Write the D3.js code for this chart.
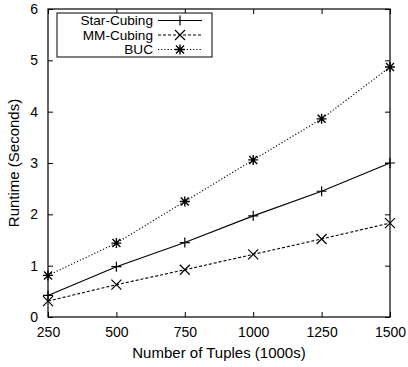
<!DOCTYPE html>
<html>
<head>
<meta charset="utf-8">
<script src="https://d3js.org/d3.v7.min.js"></script>
<style>
  body { margin: 0; background: #fff; }
  text { font-family: "Liberation Sans", Arial, sans-serif; fill: #000; }
</style>
</head>
<body>
<div id="chart"></div>
<script>
// data
const tuples = [250, 500, 750, 1000, 1250, 1500];
const starCubing = [0.42, 0.98, 1.45, 1.97, 2.45, 3.0];
const mmCubing = [0.31, 0.63, 0.92, 1.22, 1.52, 1.83];
const buc = [0.81, 1.44, 2.25, 3.06, 3.86, 4.87];
const xTicks = [250, 500, 750, 1000, 1250, 1500];
const yTicks = [0, 1, 2, 3, 4, 5, 6];

const width = 408, height = 367;
const margin = { top: 9, right: 18, bottom: 50, left: 48 };

const svg = d3.select('#chart').append('svg')
    .attr('width', width)
    .attr('height', height);

const x = d3.scaleLinear()
    .domain([250, 1500])
    .range([margin.left, width - margin.right]);

const y = d3.scaleLinear()
    .domain([0, 6])
    .range([height - margin.bottom, margin.top]);

const series = [
    { name: 'Star-Cubing', values: starCubing, dash: null, marker: 'plus' },
    { name: 'MM-Cubing', values: mmCubing, dash: '3,2', marker: 'cross' },
    { name: 'BUC', values: buc, dash: '1.2,2', marker: 'star' }
];

// inward ticks on all four sides
const tickLen = 5;
svg.append('g')
    .attr('transform', `translate(0,${y(0)})`)
    .call(d3.axisBottom(x).tickValues(xTicks).tickSize(-tickLen).tickPadding(10).tickFormat(d3.format('d')))
    .call(g => g.select('.domain').remove())
    .call(g => g.selectAll('text').attr('font-size', '14px'));

svg.append('g')
    .attr('transform', `translate(0,${y(6)})`)
    .call(d3.axisTop(x).tickValues(xTicks).tickSize(-tickLen).tickFormat(''))
    .call(g => g.select('.domain').remove());

svg.append('g')
    .attr('transform', `translate(${x(250)},0)`)
    .call(d3.axisLeft(y).tickValues(yTicks).tickSize(-tickLen).tickPadding(10).tickFormat(d3.format('d')))
    .call(g => g.select('.domain').remove())
    .call(g => g.selectAll('text').attr('font-size', '14px'));

svg.append('g')
    .attr('transform', `translate(${x(1500)},0)`)
    .call(d3.axisRight(y).tickValues(yTicks).tickSize(-tickLen).tickFormat(''))
    .call(g => g.select('.domain').remove());

// frame
svg.append('rect')
    .attr('x', x(250))
    .attr('y', y(6))
    .attr('width', x(1500) - x(250))
    .attr('height', y(0) - y(6))
    .attr('fill', 'none')
    .attr('stroke', '#000')
    .attr('stroke-width', 1.2);

function drawMarker(g, type, cx, cy) {
    const s = 5;
    const p = d3.path();
    if (type === 'plus' || type === 'star') {
        p.moveTo(cx - s, cy); p.lineTo(cx + s, cy);
        p.moveTo(cx, cy - s); p.lineTo(cx, cy + s);
    }
    if (type === 'cross' || type === 'star') {
        const d = type === 'star' ? s * 0.8 : s;
        p.moveTo(cx - d, cy - d); p.lineTo(cx + d, cy + d);
        p.moveTo(cx - d, cy + d); p.lineTo(cx + d, cy - d);
    }
    g.append('path')
        .attr('d', p.toString())
        .attr('fill', 'none')
        .attr('stroke', '#000')
        .attr('stroke-width', type === 'star' ? 1.4 : 1.2);
}

const line = d3.line()
    .x((d, i) => x(tuples[i]))
    .y(d => y(d));

series.forEach(s => {
    const g = svg.append('g');
    g.append('path')
        .datum(s.values)
        .attr('d', line)
        .attr('fill', 'none')
        .attr('stroke', '#000')
        .attr('stroke-width', 1.1)
        .attr('stroke-dasharray', s.dash);
    s.values.forEach((v, i) => drawMarker(g, s.marker, x(tuples[i]), y(v)));
});

// legend
const legend = svg.append('g');
legend.append('rect')
    .attr('x', 57)
    .attr('y', 13)
    .attr('width', 155)
    .attr('height', 44)
    .attr('fill', '#fff')
    .attr('stroke', '#000')
    .attr('stroke-width', 1);

series.forEach((s, i) => {
    const ly = 20.5 + i * 14.5;
    legend.append('text')
        .attr('x', 153)
        .attr('y', ly)
        .attr('dy', '0.35em')
        .attr('text-anchor', 'end')
        .attr('font-size', '13.6px')
        .text(s.name);
    legend.append('line')
        .attr('x1', 158).attr('x2', 202)
        .attr('y1', ly).attr('y2', ly)
        .attr('stroke', '#000')
        .attr('stroke-width', 1.1)
        .attr('stroke-dasharray', s.dash);
    drawMarker(legend, s.marker, 180, ly);
});

// axis titles
svg.append('text')
    .attr('x', (x(250) + x(1500)) / 2)
    .attr('y', 358)
    .attr('text-anchor', 'middle')
    .attr('font-size', '15px')
    .text('Number of Tuples (1000s)');

svg.append('text')
    .attr('transform', `translate(19,${(y(0) + y(6)) / 2}) rotate(-90)`)
    .attr('text-anchor', 'middle')
    .attr('font-size', '15px')
    .text('Runtime (Seconds)');
</script>
</body>
</html>
